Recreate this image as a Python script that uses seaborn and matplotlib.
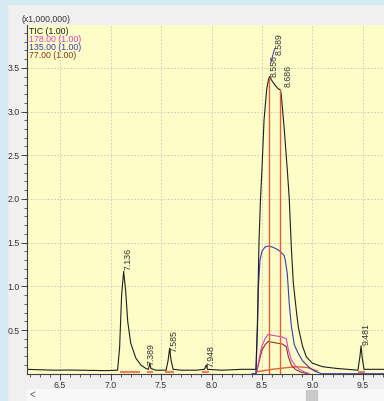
import numpy as np
import pandas as pd
import seaborn as sns
import matplotlib.pyplot as plt
from matplotlib.patches import Rectangle

# retention time (min) / intensity (x1,000,000)
tic_rt = [6.17, 6.3, 6.45, 6.6, 6.8, 6.95, 7.07, 7.09, 7.11, 7.13, 7.15, 7.17, 7.2, 7.25,
          7.3, 7.35, 7.375, 7.389, 7.40, 7.45, 7.55, 7.57, 7.585, 7.6, 7.62, 7.7, 7.85,
          7.93, 7.948, 7.96, 8.1, 8.3, 8.44, 8.455, 8.47, 8.485, 8.50, 8.52, 8.547, 8.565,
          8.575, 8.60, 8.63, 8.66, 8.68, 8.69, 8.72, 8.75, 8.77, 8.79, 8.81, 8.84, 8.86,
          8.9, 8.94, 9.0, 9.1, 9.24, 9.35, 9.45, 9.47, 9.481, 9.49, 9.51, 9.6, 9.71]
tic_int = [0.05, 0.045, 0.04, 0.042, 0.038, 0.035, 0.04, 0.3, 0.9, 1.17, 0.95, 0.6, 0.35, 0.18,
           0.1, 0.06, 0.05, 0.12, 0.06, 0.04, 0.04, 0.15, 0.29, 0.15, 0.05, 0.04, 0.04,
           0.05, 0.1, 0.05, 0.04, 0.05, 0.05, 0.6, 1.5, 2.0, 2.35, 2.9, 3.26, 3.37,
           3.40, 3.35, 3.30, 3.26, 3.25, 3.20, 2.8, 2.34, 2.0, 1.45, 1.04, 0.72, 0.53,
           0.32, 0.19, 0.12, 0.08, 0.06, 0.05, 0.04, 0.2, 0.32, 0.2, 0.05, 0.05, 0.05]

m135_rt = [8.40, 8.44, 8.455, 8.465, 8.48, 8.50, 8.53, 8.56, 8.60, 8.64, 8.68, 8.72, 8.73,
           8.75, 8.77, 8.79, 8.82, 8.86, 8.9, 8.96, 9.02, 9.09, 9.71]
m135_int = [0.0, 0.0, 0.5, 1.0, 1.3, 1.40, 1.45, 1.46, 1.45, 1.43, 1.40, 1.35, 1.30,
            1.15, 0.8, 0.55, 0.33, 0.23, 0.15, 0.08, 0.03, 0.0, 0.0]

m178_rt = [8.44, 8.46, 8.48, 8.50, 8.53, 8.56, 8.60, 8.65, 8.70, 8.74, 8.76, 8.79, 8.83,
           8.87, 8.92, 8.97]
m178_int = [0.0, 0.1, 0.22, 0.32, 0.40, 0.45, 0.44, 0.43, 0.42, 0.40, 0.28, 0.16, 0.09,
            0.05, 0.02, 0.0]

m77_rt = [8.44, 8.46, 8.48, 8.50, 8.53, 8.56, 8.60, 8.65, 8.70, 8.74, 8.76, 8.79, 8.83,
          8.88, 8.95]
m77_int = [0.0, 0.08, 0.18, 0.27, 0.33, 0.37, 0.36, 0.35, 0.34, 0.31, 0.20, 0.10, 0.05,
           0.02, 0.0]

# integration baselines
base_rt = [8.44, 8.6, 8.75, 8.85, 8.95, 9.05]
base_int = [0.02, 0.05, 0.07, 0.08, 0.07, 0.03]
seg_start = [7.09, 7.36, 7.54, 7.91, 9.45]
seg_end = [7.29, 7.42, 7.63, 7.98, 9.52]

peak_rt = [8.572, 8.683]
peak_top = [3.39, 3.26]

labels = ['7.136', '7.389', '7.585', '7.948', '8.556', '8.589', '8.686', '9.481']
label_rt = [7.13, 7.36, 7.59, 7.95, 8.575, 8.625, 8.71, 9.485]
label_int = [1.19, 0.1, 0.25, 0.08, 3.40, 3.65, 3.28, 0.33]

legend = ['TIC (1.00)', '178.00 (1.00)', '135.00 (1.00)', '77.00 (1.00)']
colors = ['#202020', '#e040c8', '#3a3ab8', '#8a3420']

sns.set_style('ticks')
plt.rcParams['font.family'] = ['Liberation Sans', 'DejaVu Sans']

fig = plt.figure(figsize=(3.84, 4.01), dpi=100, facecolor='#f0f0f0')
W, H = 384, 401
fig.patches.append(Rectangle((0, 0), 7 / W, 1, transform=fig.transFigure,
                             color='#d6eaf1', zorder=-2))
fig.patches.append(Rectangle((0, 1 - 4 / H), 1, 4 / H, transform=fig.transFigure,
                             color='#d6eaf1', zorder=-2))
# scroll bar
fig.patches.append(Rectangle((27 / W, 0), 1, 12 / H, transform=fig.transFigure,
                             color='#f8f8f8', zorder=-1))
fig.patches.append(Rectangle((306 / W, 0), 11 / W, 11 / H, transform=fig.transFigure,
                             color='#c9c9c9', zorder=-1))
fig.text(32 / W, 1 - 395 / H, '<', fontsize=7, color='#555555', va='center', ha='center')

ax = fig.add_axes([27 / W, (H - 373.7) / H, (W - 27) / W, (373.7 - 25) / H])
ax.set_facecolor('#fdfdc8')

sns.lineplot(x=base_rt, y=base_int, color='#e0603a', lw=1.0, ax=ax, estimator=None, sort=False)
ax.hlines([0.02] * len(seg_start), seg_start, seg_end, color='#e8805a', lw=1.6)
sns.lineplot(x=m77_rt, y=m77_int, color=colors[3], lw=0.8, ax=ax, estimator=None, sort=False)
sns.lineplot(x=m178_rt, y=m178_int, color=colors[1], lw=0.8, ax=ax, estimator=None, sort=False)
sns.lineplot(x=m135_rt, y=m135_int, color=colors[2], lw=0.8, ax=ax, estimator=None, sort=False)
sns.lineplot(x=tic_rt, y=tic_int, color=colors[0], lw=0.8, ax=ax, estimator=None, sort=False)
ax.vlines(peak_rt, 0, peak_top, color='#e0603a', lw=1.0)

for t, x, y in zip(labels, label_rt, label_int):
    ax.text(x, y, t, rotation=90, fontsize=6.3, color='#333333', ha='left', va='bottom')
ax.plot([8.585, 8.625], [3.55, 3.72], color='#3a3ab8', lw=0.7)

for i, (t, c) in enumerate(zip(legend, colors)):
    ax.text(0.005, 0.993 - i * 0.0225, t, transform=ax.transAxes, fontsize=6.3, color=c,
            ha='left', va='top')
fig.text(22 / W, 1 - 19.5 / H, '(x1,000,000)', fontsize=6.2, color='#333333', va='center')

ax.set_xlim(6.173, 9.708)
ax.set_ylim(0, 3.99)
ax.set_xticks([6.5, 7.0, 7.5, 8.0, 8.5, 9.0, 9.5])
ax.set_xticks(np.arange(6.2, 9.71, 0.1), minor=True)
ax.set_yticks([0.5, 1.0, 1.5, 2.0, 2.5, 3.0, 3.5])
ax.set_yticks(np.arange(0.1, 3.95, 0.1), minor=True)
ax.tick_params(which='major', length=4, width=0.7, color='#444444', labelsize=6.3,
               labelcolor='#333333', pad=1.5)
ax.tick_params(which='minor', length=2, width=0.6, color='#444444')
ax.grid(True, which='major', color='#c8c8b8', lw=0.6, ls=(0, (2, 2)))
ax.set_xlabel('')
ax.set_ylabel('')
for s in ['top', 'right']:
    ax.spines[s].set_visible(False)
for s in ['left', 'bottom']:
    ax.spines[s].set_color('#404040')
    ax.spines[s].set_linewidth(0.8)

fig.savefig('out.png', dpi=100, facecolor=fig.get_facecolor())
